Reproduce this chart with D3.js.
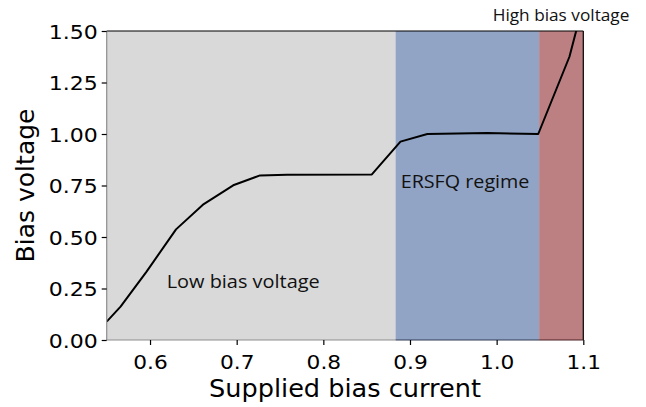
<!DOCTYPE html>
<html><head><meta charset="utf-8">
<script src="https://cdn.jsdelivr.net/npm/d3@7"></script>
<style>body{margin:0;background:#fff;}svg{display:block;}</style>
</head><body>
<svg id="c" width="646" height="407"></svg>
<script>
// Data
const current = [0.55, 0.566, 0.596, 0.630, 0.662, 0.696, 0.727, 0.758, 0.856, 0.889, 0.920, 0.989, 1.048, 1.084, 1.093];
const voltage = [0.089, 0.162, 0.332, 0.537, 0.660, 0.751, 0.799, 0.802, 0.804, 0.963, 1.000, 1.005, 1.000, 1.375, 1.52];
const regionNames = ["Low bias voltage", "ERSFQ regime", "High bias voltage"];
const regionStart = [0.55, 0.8833, 1.049];
const regionEnd = [0.8833, 1.049, 1.1];
const regionColors = ["#d9d9d9", "#91a4c5", "#bc8082"];
const xTicks = [0.6, 0.7, 0.8, 0.9, 1.0, 1.1];
const yTicks = [0, 0.25, 0.5, 0.75, 1.0, 1.25, 1.5];
const xLabel = "Supplied bias current";
const yLabel = "Bias voltage";

const svg = d3.select("#c");
const L = 106.7, R = 583.3, T = 31, B = 340;
const x = d3.scaleLinear().domain([0.55, 1.1]).range([L, R]);
const y = d3.scaleLinear().domain([0, 1.5]).range([B, T]);

// regions
svg.selectAll("rect.reg").data(regionNames).enter().append("rect")
  .attr("x", (d,i)=>x(regionStart[i])).attr("y", T)
  .attr("width", (d,i)=>x(regionEnd[i])-x(regionStart[i])).attr("height", B-T)
  .attr("fill", (d,i)=>regionColors[i]);

// curve
svg.append("clipPath").attr("id","clip").append("rect").attr("x",L).attr("y",T).attr("width",R-L).attr("height",B-T);
svg.append("path").datum(current.map((c,i)=>[c, voltage[i]]))
  .attr("clip-path","url(#clip)")
  .attr("d", d3.line().x(d=>x(d[0])).y(d=>y(d[1])))
  .attr("fill","none").attr("stroke","#000").attr("stroke-width",2).attr("stroke-linejoin","round");

// spines
const spineDark = ["#8e8e8e", "#2e3a55", "#4a1f22"];
svg.append("line").attr("x1",L).attr("x2",R).attr("y1",T).attr("y2",T).attr("stroke","#000").attr("stroke-width",1.2);
svg.append("line").attr("x1",R).attr("x2",R).attr("y1",T).attr("y2",B).attr("stroke","#000").attr("stroke-width",1.2);
svg.append("line").attr("x1",L).attr("x2",L).attr("y1",T).attr("y2",B).attr("stroke","#8e8e8e").attr("stroke-width",1.2);
svg.selectAll("line.bsp").data(regionNames).enter().append("line")
  .attr("x1",(d,i)=>x(regionStart[i])).attr("x2",(d,i)=>x(regionEnd[i]))
  .attr("y1",B).attr("y2",B).attr("stroke",(d,i)=>spineDark[i]).attr("stroke-width",1.2);

// axes
const fmtY = d3.format(".2f");
const xAxis = svg.append("g").attr("transform",`translate(0,${B})`)
  .call(d3.axisBottom(x).tickValues(xTicks).tickFormat(d3.format(".1f")).tickSize(5).tickPadding(5));
const yAxis = svg.append("g").attr("transform",`translate(${L},0)`)
  .call(d3.axisLeft(y).tickValues(yTicks).tickFormat(fmtY).tickSize(5).tickPadding(4));
[xAxis, yAxis].forEach(g=>{
  g.select(".domain").remove();
  g.selectAll(".tick line").attr("stroke","#000").attr("stroke-width",1.2);
  g.selectAll(".tick text").attr("fill","#000").style("font-family","DejaVu Sans").style("font-size","19.5px");
});
yAxis.selectAll(".tick text").attr("textLength",49).attr("lengthAdjust","spacingAndGlyphs").attr("dy","0.36em");
xAxis.selectAll(".tick text").attr("textLength",34.5).attr("lengthAdjust","spacingAndGlyphs").attr("dy","0.95em");

// axis labels
svg.append("text").attr("x",(L+R)/2).attr("y",396.5).attr("text-anchor","middle")
  .style("font-family","DejaVu Sans").style("font-size","24px")
  .attr("textLength",272).attr("lengthAdjust","spacingAndGlyphs").text(xLabel);
svg.append("text").attr("transform",`translate(33.5,${(T+B)/2}) rotate(-90)`).attr("text-anchor","middle")
  .style("font-family","DejaVu Sans").style("font-size","24px")
  .attr("textLength",154).attr("lengthAdjust","spacingAndGlyphs").text(yLabel);

// annotations
const annX = [166.7, 400.7, 492.7];
const annY = [288.3, 188.3, 20.7];
const annSize = [19, 19, 16.5];
const annLen = [153, 128.7, 136.7];
svg.selectAll("text.ann").data(regionNames).enter().append("text")
  .attr("x",(d,i)=>annX[i]).attr("y",(d,i)=>annY[i])
  .style("font-family","Open Sans").style("font-size",(d,i)=>annSize[i]+"px")
  .attr("textLength",(d,i)=>annLen[i]).attr("lengthAdjust","spacingAndGlyphs")
  .attr("fill","#111").text(d=>d);
</script>
</body></html>
